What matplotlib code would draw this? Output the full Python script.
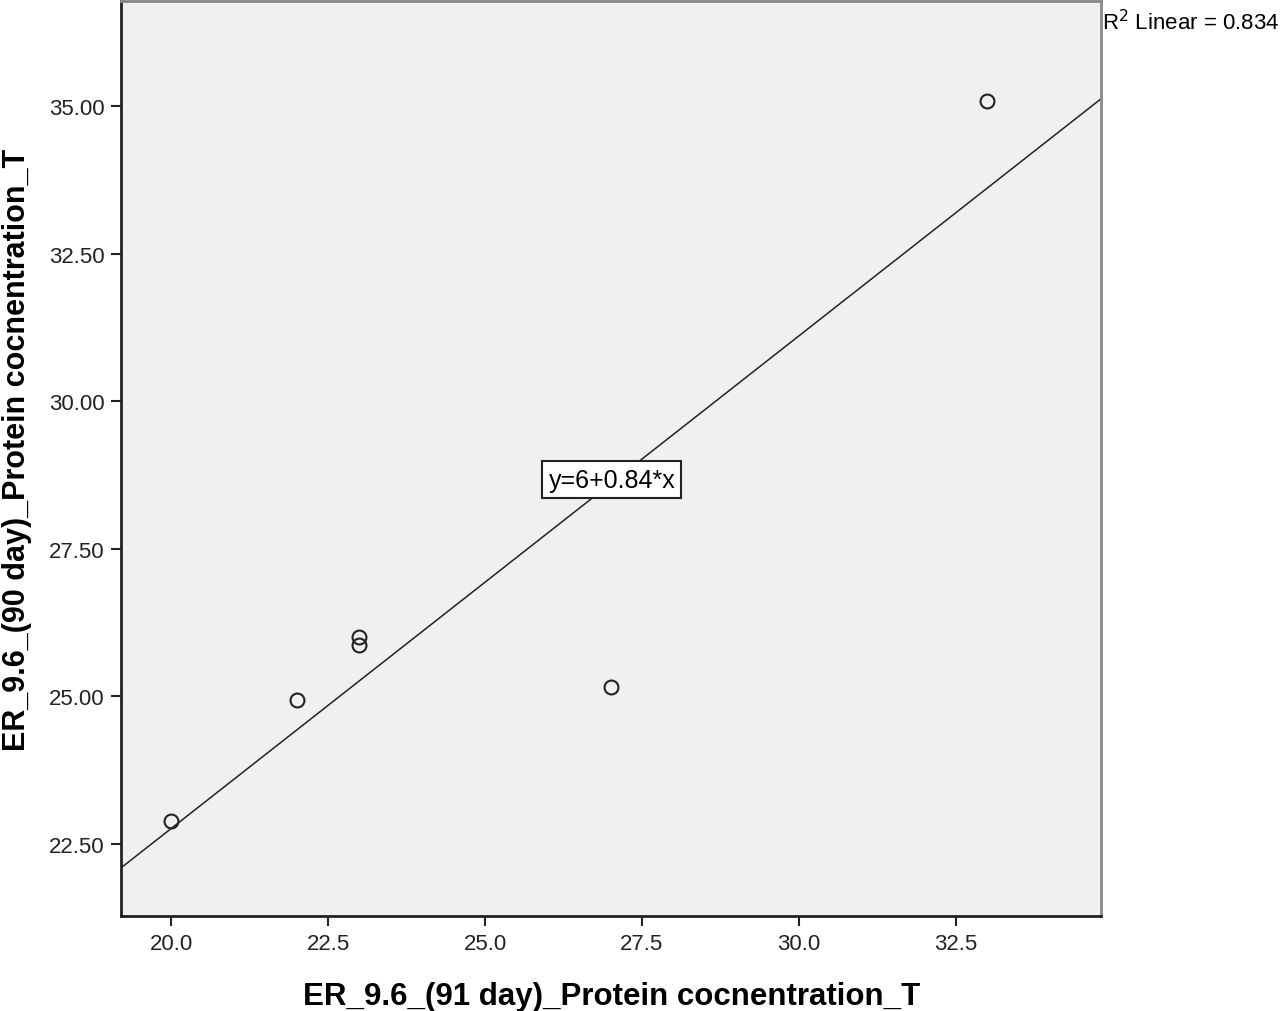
import numpy as np
import matplotlib.pyplot as plt
import matplotlib

matplotlib.rc('font', family='Liberation Sans', size=16)

# values
day91 = [20.0, 22.0, 23.0, 23.0, 27.0, 33.0]
day90 = [22.89, 24.93, 26.01, 25.87, 25.15, 35.08]
xticks = [20.0, 22.5, 25.0, 27.5, 30.0, 32.5]
yticks = [22.50, 25.00, 27.50, 30.00, 32.50, 35.00]

fig = plt.figure(figsize=(12.8, 10.12), dpi=100)
ax = fig.add_axes([0.0945, 0.094, 0.766, 0.904])
ax.set_facecolor('#f0f0f0')

ax.plot(day91, day90, 'o', mfc='none', mec='#222222', mew=1.5, ms=10)

# fit line across the whole axis
b, a = np.polyfit(day91, day90, 1)
xl = (19.2, 34.82)
xs = np.array(xl)
ax.plot(xs, a + b * xs, color='#222222', lw=1.1)

ax.set_xlim(xl)
ax.set_ylim(21.28, 36.78)
ax.set_xticks(xticks)
ax.set_xticklabels(['%.1f' % v for v in xticks])
ax.set_yticks(yticks)
ax.set_yticklabels(['%.2f' % v for v in yticks])
ax.tick_params(direction='out', length=7, width=1.5, color='#222222', labelcolor='#222222', pad=5)

for s in ['left', 'bottom']:
    ax.spines[s].set_linewidth(2)
    ax.spines[s].set_color('#222222')
for s in ['top', 'right']:
    ax.spines[s].set_linewidth(2)
    ax.spines[s].set_color('#888888')

ax.set_xlabel('ER_9.6_(91 day)_Protein cocnentration_T', fontsize=22.5, fontweight='bold', labelpad=20)
ax.set_ylabel('ER_9.6_(90 day)_Protein cocnentration_T', fontsize=22, fontweight='bold')
ax.yaxis.set_label_coords(-0.091, 0.51)

ax.text(27.02, 28.67, 'y=6+0.84*x', ha='center', va='center', fontsize=18,
        bbox=dict(boxstyle='square,pad=0.25', fc='white', ec='#222222', lw=1.5))

fig.text(0.861, 0.978, r'R$^2$ Linear = 0.834', fontsize=16, ha='left', va='center')

plt.savefig('out.png')
